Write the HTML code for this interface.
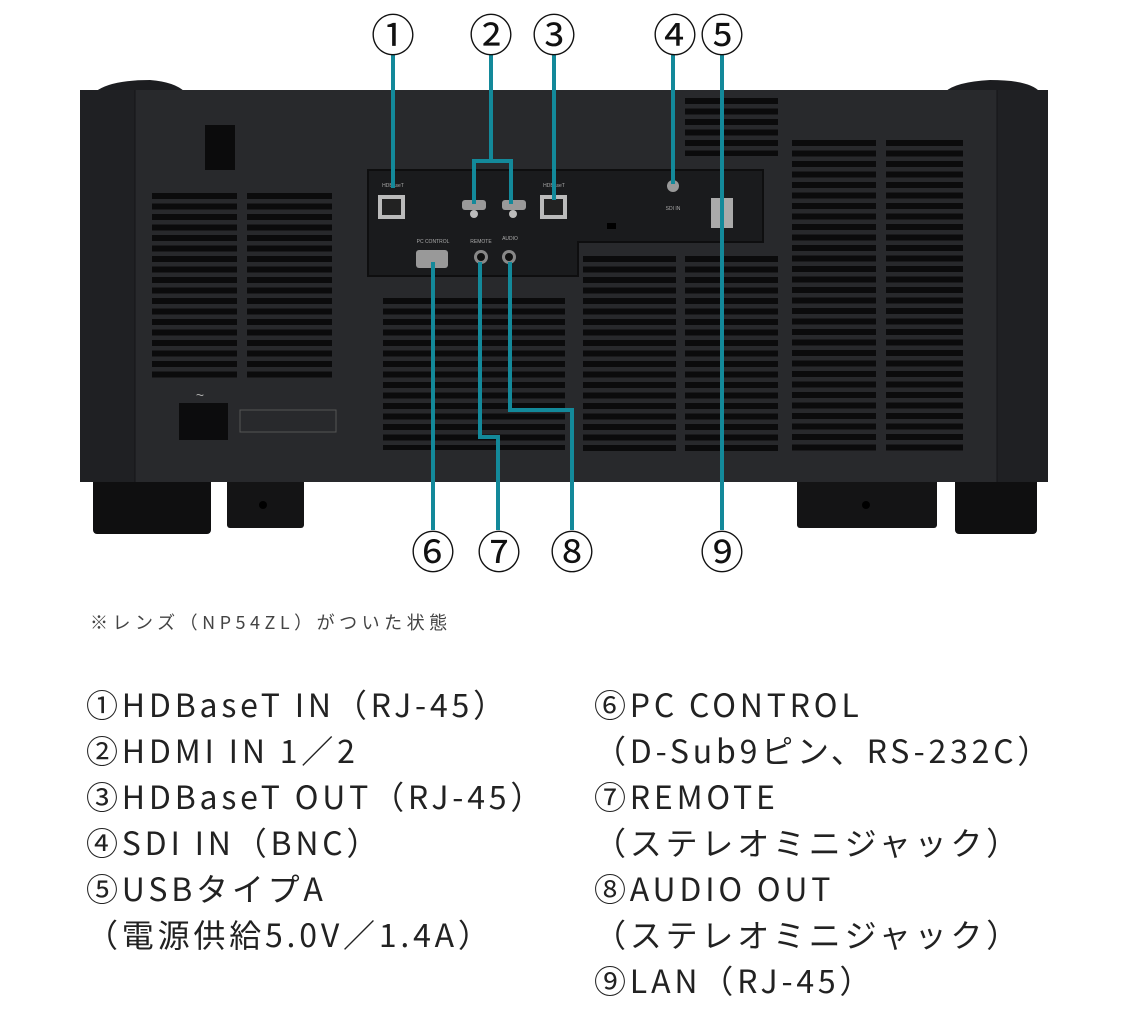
<!DOCTYPE html>
<html><head><meta charset="utf-8"><style>
body{margin:0;background:#fff;width:1129px;height:1035px;overflow:hidden;position:relative;font-family:"Liberation Sans","Noto Sans CJK JP",sans-serif}
.t{position:absolute;font-family:"Noto Sans CJK JP",sans-serif;font-size:32px;color:#222;letter-spacing:3.8px;white-space:nowrap;line-height:46px}
.n{position:absolute;font-family:"Noto Sans CJK JP",sans-serif;font-size:44px;color:#111;line-height:1}
</style></head><body>
<svg width="1129" height="600" style="position:absolute;left:0;top:0">
<defs>
<pattern id="sl" x="0" y="193" width="20" height="10.5" patternUnits="userSpaceOnUse"><rect width="20" height="6" fill="#0b0b0c"/></pattern>
<pattern id="sl2" x="0" y="140" width="20" height="10.5" patternUnits="userSpaceOnUse"><rect width="20" height="6" fill="#0b0b0c"/></pattern>
<pattern id="sl3" x="0" y="298" width="20" height="10.5" patternUnits="userSpaceOnUse"><rect width="20" height="6" fill="#0b0b0c"/></pattern>
</defs>
<rect x="93" y="478" width="118" height="56" rx="4" fill="#0f0f10"/>
<rect x="227" y="478" width="77" height="50" rx="3" fill="#141415"/>
<circle cx="263" cy="505" r="4" fill="#000"/>
<rect x="797" y="478" width="140" height="50" rx="3" fill="#141415"/>
<circle cx="866" cy="505" r="4" fill="#000"/>
<rect x="955" y="478" width="82" height="56" rx="4" fill="#0f0f10"/>
<path d="M95 92 Q110 80 150 80 Q175 82 185 92Z" fill="#1c1d20"/>
<path d="M945 92 Q955 82 990 80 Q1030 80 1040 92Z" fill="#1c1d20"/>
<rect x="80" y="90" width="968" height="392" fill="#28292c"/>
<rect x="80" y="90" width="55" height="392" fill="#1f2023"/>
<rect x="997" y="90" width="51" height="392" fill="#1f2023"/>
<line x1="135" y1="90" x2="135" y2="482" stroke="#151517"/>
<line x1="997" y1="90" x2="997" y2="482" stroke="#151517"/>
<rect x="152" y="193" width="85" height="185" fill="url(#sl)"/>
<rect x="247" y="193" width="85" height="185" fill="url(#sl)"/>
<rect x="792" y="140" width="84" height="312" fill="url(#sl2)"/>
<rect x="886" y="140" width="77" height="312" fill="url(#sl2)"/>
<rect x="685" y="98" width="93" height="58" fill="url(#sl2)"/>
<rect x="383" y="298" width="182" height="152" fill="url(#sl3)"/>
<rect x="583" y="256" width="93" height="196" fill="url(#sl3)"/>
<rect x="685" y="256" width="93" height="196" fill="url(#sl3)"/>
<rect x="205" y="125" width="30" height="45" fill="#0b0b0c"/>
<text x="200" y="400" font-size="14" fill="#aaa" text-anchor="middle">~</text>
<rect x="179" y="403" width="49" height="37" fill="#0c0c0d"/>
<rect x="240" y="410" width="96" height="22" fill="none" stroke="#555" stroke-width="1"/>
<path d="M368 170 H763 V242 H578 V276 H368Z" fill="#1a1b1d" stroke="#0e0e0f" stroke-width="2"/>
<rect x="378" y="195" width="27" height="24" fill="#bbb"/><rect x="382" y="199" width="19" height="16" fill="#222"/>
<rect x="540" y="195" width="27" height="24" fill="#bbb"/><rect x="544" y="199" width="19" height="16" fill="#222"/>
<rect x="462" y="200" width="24" height="10" rx="3" fill="#999"/><rect x="502" y="200" width="24" height="10" rx="3" fill="#999"/>
<circle cx="474" cy="214" r="4" fill="#bbb"/><circle cx="513" cy="214" r="4" fill="#bbb"/>
<circle cx="673" cy="186" r="6" fill="#999"/>
<rect x="711" y="198" width="22" height="30" fill="#aaa"/>
<rect x="416" y="250" width="32" height="18" rx="3" fill="#999"/>
<circle cx="481" cy="257" r="7" fill="#888"/><circle cx="481" cy="257" r="4" fill="#111"/>
<circle cx="509" cy="257" r="7" fill="#888"/><circle cx="509" cy="257" r="4" fill="#111"/>
<rect x="607" y="223" width="9" height="6" fill="#000"/>
<g font-size="5" fill="#aaa" text-anchor="middle"><text x="393" y="187">HDBaseT</text><text x="433" y="243">PC CONTROL</text><text x="481" y="243">REMOTE</text><text x="510" y="240">AUDIO</text><text x="554" y="187">HDBaseT</text><text x="673" y="210">SDI IN</text></g>
<g stroke="#13899a" stroke-width="4" fill="none">
<path d="M393 55 V188"/>
<path d="M491 55 V161 M474 204 V161 H511 V204"/>
<path d="M554 55 V200"/>
<path d="M673 55 V184"/>
<path d="M722 55 V530"/>
<path d="M433 262 V530"/>
<path d="M480 262 V437 H498 V530"/>
<path d="M510 262 V410 H572 V530"/>
</g>
</svg>
<div class="n" style="left:371px;top:10px">①</div>
<div class="n" style="left:469px;top:10px">②</div>
<div class="n" style="left:532px;top:10px">③</div>
<div class="n" style="left:653px;top:10px">④</div>
<div class="n" style="left:700px;top:10px">⑤</div>
<div class="n" style="left:411px;top:527px">⑥</div>
<div class="n" style="left:477px;top:527px">⑦</div>
<div class="n" style="left:550px;top:527px">⑧</div>
<div class="n" style="left:700px;top:527px">⑨</div>
<div style="position:absolute;left:90px;top:609px;font-size:18px;color:#444;letter-spacing:4.5px;font-family:'Noto Sans CJK JP',sans-serif">※レンズ（NP54ZL）がついた状態</div>
<div class="t" style="left:86px;top:681px">①HDBaseT IN（RJ-45）<br>②HDMI IN 1／2<br>③HDBaseT OUT（RJ-45）<br>④SDI IN（BNC）<br>⑤USBタイプA<br>（電源供給5.0V／1.4A）</div>
<div class="t" style="left:594px;top:681px">⑥PC CONTROL<br>（D-Sub9ピン、RS-232C）<br>⑦REMOTE<br>（ステレオミニジャック）<br>⑧AUDIO OUT<br>（ステレオミニジャック）<br>⑨LAN（RJ-45）</div>
</body></html>
